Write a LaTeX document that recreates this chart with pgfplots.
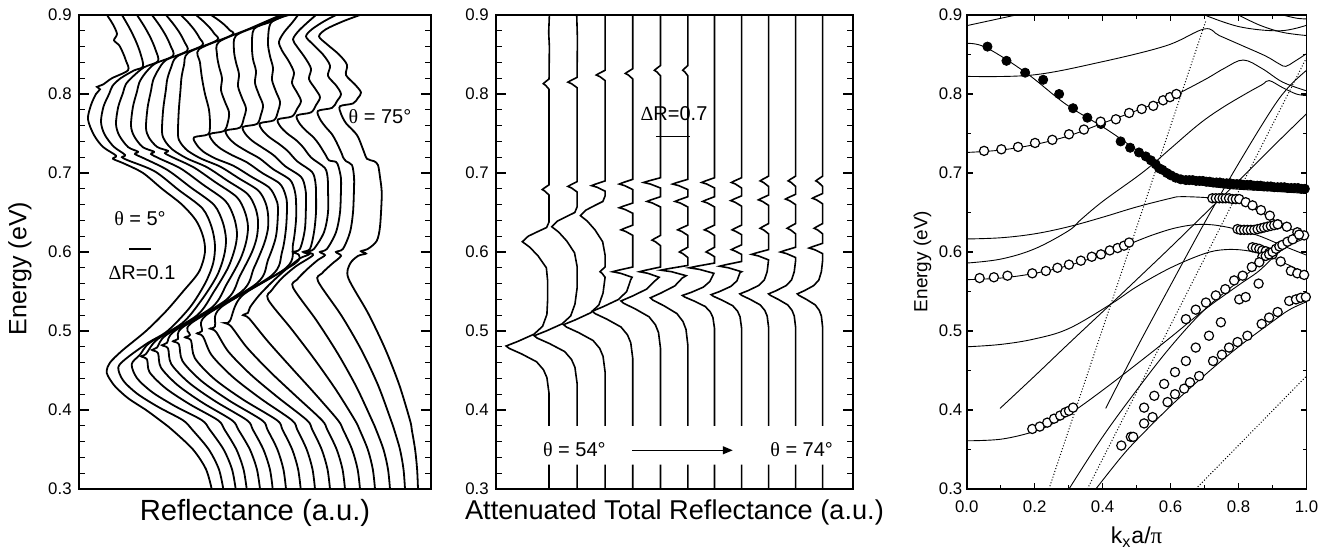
\documentclass[border=0pt]{standalone}
\usepackage{fontspec}
\setmainfont{Liberation Sans}
\newfontfamily\symb{Liberation Serif}
\usepackage{pgfplots}
\pgfplotsset{compat=1.18}
\usetikzlibrary{arrows.meta}

\tikzset{note/.style={font=\fontsize{10}{11}\selectfont}}
\pgfplotsset{
  panel/.style={
    scale only axis, height=237pt,
    ymin=0.3, ymax=0.9,
    axis line style={line width=0.9pt},
    tick style={line width=0.6pt, black},
    tick align=inside,
    /pgf/number format/assume math mode=true,
    yticklabel style={/pgf/number format/fixed,/pgf/number format/fixed zerofill,
      /pgf/number format/precision=1, font=\fontsize{8.4}{9}\selectfont, inner sep=0pt, xshift=-3.5pt},
    xticklabel style={/pgf/number format/fixed,/pgf/number format/fixed zerofill,
      /pgf/number format/precision=1, font=\fontsize{8.4}{9}\selectfont, inner sep=0pt, yshift=-5.5pt},
  },
  spec/.style={black, line width=0.9pt, smooth, tension=0.5},
  atr/.style={black, line width=0.8pt},
  band/.style={black, line width=0.45pt, smooth, tension=0.6},
  light/.style={black, line width=0.5pt, densely dotted},
  open/.style={only marks, mark=*, mark size=2.3pt, mark options={fill=white, draw=black, line width=0.6pt}},
  full/.style={only marks, mark=*, mark size=2.3pt, mark options={fill=black, draw=black}},
}

\begin{document}
\begin{tikzpicture}
\path[use as bounding box] (0pt,0pt) rectangle (665.5pt,-275.5pt);

% ---------------- Reflectance spectra, theta = 5 ... 75 deg ----------------
\begin{axis}[panel, at={(39.5pt,-7.5pt)}, anchor=north west, width=176pt,
  xmin=79, xmax=431, xtick=\empty,
  ytick={0.3,0.4,0.5,0.6,0.7,0.8,0.9}, minor y tick num=4,
  major tick length=5pt, minor tick length=3pt,
  ylabel={Energy (eV)}, ylabel style={font=\fontsize{12.5}{14}\selectfont, at={(axis description cs:-0.168,0.465)}, anchor=center},
  xlabel={Reflectance (a.u.)}, xlabel style={font=\fontsize{14.6}{16}\selectfont, at={(axis description cs:0.5,0)}, anchor=center, yshift=-12pt},
]
\addplot[spec] coordinates {(211.7,0.300)(206,0.325)(193,0.350)(172,0.375)(160,0.387)(146,0.400)(128,0.415)(115,0.430)(108,0.443)(106.7,0.450)(110,0.460)(122,0.475)(146,0.500)(166,0.525)(183,0.550)(199,0.575)(205,0.600)(203,0.620)(196,0.640)(182,0.660)(162,0.680)(143,0.700)(124,0.712)(113,0.718)(116,0.722)(103,0.733)(94,0.748)(88,0.768)(91,0.786)(96,0.800)(100,0.806)(97,0.809)(103,0.812)(112,0.820)(128,0.830)(126,0.842)(123,0.852)(119,0.862)(114,0.868)(117,0.876)(113,0.888)(107,0.900)};
\addplot[spec] coordinates {(223.3,0.300)(218.9,0.325)(208.8,0.350)(192.3,0.375)(183,0.387)(158.3,0.4038)(137.3,0.4205)(123.2,0.4373)(118.3,0.454)(127,0.466)(147.9,0.485)(167.5,0.500)(190,0.530)(205,0.560)(213,0.585)(215,0.608)(211.6,0.6316)(202.5,0.6551)(178.5,0.6787)(154.6,0.7022)(128,0.716)(122,0.720)(125,0.723)(113.5,0.7336)(104.4,0.7493)(101,0.765)(103.6,0.7844)(109.3,0.8006)(112.6,0.8104)(120.8,0.8201)(134,0.8298)(143,0.8348)(140.5,0.8511)(135.7,0.8674)(129.4,0.8837)(122,0.900)};
\addplot[spec] coordinates {(235.7,0.300)(232,0.325)(223.6,0.350)(209.8,0.375)(202,0.387)(175.1,0.4048)(152.3,0.4225)(137,0.4403)(131.7,0.458)(140,0.470)(149.7,0.485)(182.3,0.510)(202,0.540)(217,0.570)(224,0.595)(226,0.616)(222.7,0.6379)(213.9,0.6598)(190.8,0.6817)(167.7,0.7036)(144.6,0.7182)(135,0.724)(138,0.727)(128.1,0.7328)(119.3,0.7474)(116,0.762)(118.2,0.7835)(123,0.8015)(125.8,0.8123)(132.8,0.822)(144,0.8338)(158,0.8415)(155.5,0.8561)(150.7,0.8708)(144.4,0.8854)(137,0.900)};
\addplot[spec] coordinates {(246.7,0.300)(243.5,0.325)(236.4,0.350)(224.6,0.375)(218,0.387)(189.7,0.4073)(165.7,0.4275)(149.6,0.4478)(147,0.464)(141,0.468)(146,0.471)(158,0.490)(197.2,0.520)(214,0.550)(228,0.580)(235,0.605)(237,0.624)(233.8,0.6444)(225.3,0.6648)(203.1,0.6852)(180.8,0.7056)(160,0.718)(151,0.724)(154,0.727)(142.7,0.7328)(134.2,0.7464)(131,0.760)(132.9,0.7835)(137,0.8031)(139.4,0.8149)(145.4,0.8266)(155,0.8384)(173,0.8483)(170.5,0.8612)(165.7,0.8742)(159.4,0.8871)(152,0.900)};
\addplot[spec] coordinates {(260,0.300)(256.9,0.325)(249.9,0.350)(238.4,0.375)(232,0.387)(202.5,0.4093)(177.6,0.4315)(160.9,0.4538)(158,0.472)(152,0.476)(157,0.479)(166.4,0.495)(212,0.530)(227,0.560)(240,0.590)(246,0.612)(248,0.632)(244.9,0.6508)(236.8,0.6695)(215.4,0.6883)(193.9,0.707)(174,0.719)(165,0.725)(168,0.728)(157.2,0.733)(149.1,0.7445)(146,0.757)(147.6,0.7828)(151,0.8042)(153,0.8171)(158,0.830)(166,0.8429)(187,0.8545)(184.5,0.8659)(179.7,0.8773)(173.4,0.8886)(166,0.900)};
\addplot[spec] coordinates {(272.7,0.300)(269.9,0.325)(263.4,0.350)(252.9,0.375)(247,0.387)(215.6,0.4108)(189,0.4345)(171.2,0.4583)(168,0.478)(162,0.482)(167,0.485)(174.7,0.500)(226.8,0.540)(240,0.570)(252,0.600)(257,0.620)(258,0.640)(255.1,0.6568)(247.4,0.6736)(227.3,0.6904)(207.1,0.7072)(187,0.7184)(172.6,0.7296)(164.9,0.7408)(162,0.752)(163.2,0.7807)(165.8,0.8045)(167.3,0.8189)(171,0.8332)(177,0.8475)(202,0.8612)(199.5,0.8709)(194.7,0.8806)(188.4,0.8903)(181,0.900)};
\addplot[spec] coordinates {(286,0.300)(283.4,0.325)(277.4,0.350)(267.5,0.375)(262,0.387)(229.1,0.412)(201.2,0.437)(182.5,0.462)(179,0.483)(173,0.487)(178,0.490)(183,0.505)(241.7,0.550)(254,0.580)(264,0.610)(268,0.630)(268,0.648)(265.3,0.663)(258.1,0.678)(239.2,0.693)(220.3,0.708)(201.4,0.718)(187.9,0.728)(180.7,0.738)(178,0.748)(178.8,0.7792)(180.5,0.8052)(181.5,0.8208)(184,0.8364)(188,0.852)(217,0.868)(214.5,0.876)(209.7,0.884)(203.4,0.892)(196,0.900)};
\addplot[spec] coordinates {(300.7,0.300)(298.1,0.325)(292.2,0.350)(282.5,0.375)(277,0.387)(242.9,0.4133)(214.1,0.4395)(194.8,0.4658)(191,0.488)(185,0.492)(190,0.495)(191.3,0.510)(256.5,0.560)(268,0.590)(276,0.620)(278,0.655)(275.5,0.6685)(268.8,0.682)(251.1,0.6955)(233.5,0.7091)(215.8,0.7181)(203.2,0.7271)(196.5,0.7361)(194,0.7451)(208,0.7489)(210,0.760)(209,0.780)(205,0.800)(202,0.820)(200,0.840)(199,0.8566)(232,0.8747)(229.5,0.881)(224.7,0.8873)(218.4,0.8937)(211,0.900)};
\addplot[spec] coordinates {(315,0.300)(312.5,0.325)(306.7,0.350)(297.3,0.375)(292,0.387)(260.6,0.4145)(232.6,0.442)(211.6,0.4695)(203,0.493)(197,0.497)(202,0.500)(206.2,0.520)(271.4,0.570)(282,0.600)(286,0.630)(287,0.660)(285.2,0.6734)(279.5,0.6868)(262,0.7002)(246.8,0.7136)(232,0.7226)(219.9,0.7315)(212.6,0.7405)(210,0.7494)(224,0.7532)(228,0.765)(229,0.777)(225,0.790)(221,0.805)(222,0.820)(219,0.835)(217,0.850)(219,0.866)(250,0.883)(280.7,0.900)};
\addplot[spec] coordinates {(330,0.300)(327.5,0.325)(321.7,0.350)(312.3,0.375)(307,0.387)(277.9,0.416)(250.6,0.445)(228.3,0.474)(216,0.499)(210,0.503)(215,0.506)(221,0.530)(286.2,0.580)(293,0.610)(296,0.640)(296,0.665)(294.6,0.6783)(289.8,0.6916)(273.1,0.7049)(259.9,0.7182)(247.4,0.7271)(235.9,0.736)(228.6,0.7448)(226,0.7537)(240,0.7575)(244,0.770)(246,0.782)(242,0.795)(238,0.810)(239,0.825)(236,0.840)(234,0.855)(236,0.8739)(260,0.887)(283.5,0.900)};
\addplot[spec] coordinates {(345,0.300)(342.5,0.325)(336.7,0.350)(327.3,0.375)(322,0.387)(295.8,0.4178)(270,0.4485)(246.8,0.4793)(231,0.506)(225,0.510)(230,0.513)(242.4,0.545)(294.5,0.585)(299,0.596)(293,0.600)(300,0.604)(305,0.630)(306,0.668)(305.1,0.6815)(301,0.6952)(285.2,0.7086)(273.9,0.7222)(263.5,0.7312)(252.8,0.7402)(245.5,0.7493)(243,0.7583)(257,0.7621)(261,0.774)(263,0.786)(259,0.799)(255,0.814)(256,0.829)(253,0.844)(252,0.860)(254,0.8823)(270,0.891)(286.2,0.900)};
\addplot[spec] coordinates {(360,0.300)(357.6,0.325)(352.1,0.350)(343.1,0.375)(338,0.387)(315.2,0.4203)(291.4,0.4535)(267.9,0.4868)(249,0.516)(243,0.520)(248,0.523)(250,0.530)(259,0.545)(272,0.562)(286,0.578)(300,0.592)(309,0.597)(303,0.600)(310,0.604)(314,0.625)(316,0.650)(316,0.675)(315.4,0.6882)(312,0.7014)(297.4,0.7146)(287.8,0.7277)(279.3,0.7365)(269.4,0.7453)(262.4,0.7541)(260,0.7629)(274,0.7668)(278,0.778)(280,0.790)(276,0.803)(272,0.818)(273,0.833)(270,0.848)(268,0.865)(271,0.8902)(288.9,0.900)};
\addplot[spec] coordinates {(375,0.300)(372.8,0.325)(367.8,0.350)(359.6,0.375)(355,0.387)(336.1,0.4253)(314.9,0.4635)(291.9,0.5018)(268,0.540)(272,0.552)(282,0.567)(296,0.582)(313,0.596)(307,0.600)(314,0.604)(324,0.625)(328,0.650)(328,0.680)(327.7,0.6932)(324.9,0.7063)(311.2,0.7195)(303.1,0.7327)(296.2,0.7415)(287.1,0.7502)(280.3,0.759)(278,0.7678)(292,0.7716)(297,0.781)(301,0.791)(297,0.802)(292,0.814)(294,0.827)(289,0.841)(282,0.855)(279,0.866)(284,0.878)(292,0.890)(298,0.900)};
\addplot[spec] coordinates {(390,0.300)(388,0.325)(383.5,0.350)(376.1,0.375)(372,0.387)(356.5,0.429)(338,0.471)(316.7,0.513)(293,0.555)(297,0.565)(307,0.578)(318,0.590)(325,0.596)(320,0.600)(327,0.604)(336,0.625)(340,0.650)(341,0.680)(340.9,0.694)(338.5,0.708)(336,0.714)(329,0.716)(326,0.722)(319.3,0.7357)(313.6,0.745)(305.4,0.7543)(299.1,0.7636)(297,0.7729)(311,0.7767)(316,0.786)(320,0.796)(315,0.807)(309,0.819)(311,0.832)(305,0.846)(297,0.860)(293,0.869)(298,0.879)(307,0.890)(316,0.900)};
\addplot[spec] coordinates {(405,0.300)(403.5,0.325)(400,0.350)(394.2,0.375)(391,0.387)(378.2,0.431)(361.8,0.475)(341.7,0.519)(318,0.563)(322,0.573)(332,0.585)(341,0.595)(336,0.600)(343,0.604)(350,0.625)(353,0.650)(354,0.680)(354,0.695)(352,0.710)(346,0.715)(343,0.720)(341.8,0.7244)(336.4,0.7392)(332,0.749)(325.2,0.7589)(319.8,0.7687)(318,0.7786)(332,0.7824)(337,0.791)(341,0.800)(336,0.811)(328,0.823)(330,0.836)(323,0.850)(312,0.864)(306,0.873)(312,0.882)(324,0.892)(336,0.900)};
\addplot[spec] coordinates {(418,0.300)(417.1,0.325)(415.1,0.350)(411.8,0.375)(410,0.387)(399.2,0.432)(385.3,0.477)(368.3,0.522)(348.3,0.567)(350,0.585)(358,0.595)(366,0.598)(361,0.601)(368,0.604)(376.7,0.614)(380,0.632)(381.7,0.668)(381.5,0.680)(380,0.695)(378,0.710)(374,0.715)(367,0.718)(363,0.730)(357,0.748)(346,0.763)(341,0.775)(340,0.7845)(353,0.788)(358,0.795)(361,0.802)(355,0.812)(346,0.824)(347,0.837)(339,0.850)(326,0.864)(319,0.873)(326,0.882)(343,0.892)(360,0.900)};
% scale bar and angle labels
\addplot[black, line width=1pt] coordinates {(129,0.604)(151,0.604)};
\node[note] at (axis cs:140,0.642) {{\symb θ} = 5°};
\node[note] at (axis cs:142,0.574) {{\symb Δ}R=0.1};
\node[note] at (axis cs:380,0.771) {{\symb θ} = 75°};
\end{axis}

% ---------------- ATR spectra, theta = 54 ... 74 deg ----------------
\begin{axis}[panel, at={(248pt,-7.5pt)}, anchor=north west, width=178.5pt,
  xmin=165, xmax=1222, xtick=\empty,
  ytick={0.3,0.4,0.5,0.6,0.7,0.8,0.9}, minor y tick num=4,
  major tick length=5pt, minor tick length=3pt,
  unbounded coords=jump,
  xlabel={Attenuated Total Reflectance (a.u.)}, xlabel style={font=\fontsize{13.6}{15}\selectfont, at={(axis description cs:0.5,0)}, anchor=center, yshift=-11.5pt},
]
\addplot[atr] coordinates {(322,0.300)(322,0.331)(322,nan)(322,0.380)(322,0.421)(315.7,0.441)(305.5,0.451)(285.2,0.461)(240.7,0.471)(203.9,0.478)(195,0.481)(230.6,0.487)(277.6,0.496)(303,0.506)(315.7,0.521)(318,0.541)(318,0.563)(314.1,0.580)(289.6,0.595)(265.1,0.606)(243,0.613)(260.4,0.620)(289.6,0.626)(314.9,0.631)(322,0.638)(322,0.672)(310,0.677)(302,0.679)(308,0.681)(322,0.685)(322,0.806)(311.8,0.811)(305,0.813)(310.1,0.815)(322,0.819)(323,0.860)(321,0.878)(323,0.900)};
\addplot[atr] coordinates {(405,0.300)(405,0.331)(405,nan)(405,0.380)(405,0.434)(398.7,0.454)(388.5,0.464)(368.2,0.474)(323.7,0.484)(286.9,0.491)(278,0.494)(313.6,0.500)(360.6,0.509)(386,0.519)(398.7,0.534)(405,0.554)(405,0.582)(397.5,0.599)(374.3,0.614)(351,0.625)(330,0.632)(346.5,0.639)(374.3,0.645)(398.3,0.650)(405,0.657)(405,0.676)(388.8,0.681)(378,0.683)(386.1,0.685)(405,0.689)(405,0.808)(388.8,0.813)(378,0.815)(386.1,0.817)(405,0.821)(406,0.870)(404,0.900)};
\addplot[atr] coordinates {(488,0.300)(488,0.331)(488,nan)(488,0.380)(488,0.448)(481.9,0.468)(472,0.478)(452.3,0.488)(409.3,0.498)(373.6,0.505)(365,0.508)(399.4,0.514)(445,0.523)(469.6,0.533)(481.9,0.548)(488,0.568)(479,0.573)(473,0.575)(477.5,0.577)(488,0.581)(488,0.596)(480.7,0.613)(458.1,0.628)(435.4,0.639)(415,0.646)(431.1,0.653)(458.1,0.659)(481.4,0.664)(488,0.671)(488,0.677)(464,0.682)(448,0.684)(460,0.686)(488,0.690)(488,0.817)(472.4,0.822)(462,0.824)(469.8,0.826)(488,0.830)(488,0.900)};
\addplot[atr] coordinates {(570,0.300)(570,0.331)(570,nan)(570,0.380)(570,0.465)(564,0.485)(554.4,0.495)(535.2,0.505)(493.2,0.515)(458.4,0.522)(450,0.525)(483.6,0.531)(528,0.540)(552,0.550)(564,0.565)(568,0.568)(534,0.573)(510,0.575)(528,0.577)(570,0.581)(570,0.621)(549,0.626)(535,0.628)(545.5,0.630)(570,0.634)(570,0.649)(546,0.654)(530,0.656)(542,0.658)(570,0.662)(570,0.679)(546,0.684)(530,0.686)(542,0.688)(570,0.692)(570,0.819)(556.8,0.824)(548,0.826)(554.6,0.828)(570,0.832)(570,0.900)};
\addplot[atr] coordinates {(652,0.300)(652,0.331)(652,nan)(652,0.380)(652,0.478)(646.2,0.498)(636.8,0.508)(618.1,0.518)(577.1,0.528)(543.2,0.535)(535,0.538)(567.8,0.544)(611,0.553)(634.5,0.563)(648,0.568)(614.8,0.573)(590,0.575)(608.6,0.577)(652,0.581)(652,0.608)(637,0.613)(627,0.615)(634.5,0.617)(652,0.621)(652,0.657)(628,0.662)(612,0.664)(624,0.666)(652,0.670)(652,0.681)(622,0.686)(602,0.688)(617,0.690)(652,0.694)(652,0.823)(641.2,0.828)(634,0.830)(639.4,0.832)(652,0.836)(652,0.900)};
\addplot[atr] coordinates {(733,0.300)(733,0.331)(733,nan)(733,0.380)(733,0.482)(727.5,0.502)(718.6,0.512)(700.8,0.522)(662,0.532)(629.8,0.539)(622,0.542)(653.1,0.548)(694.2,0.557)(716.4,0.567)(728,0.570)(685,0.575)(653,0.577)(677,0.579)(733,0.583)(733,0.593)(718,0.598)(708,0.600)(715.5,0.602)(733,0.606)(733,0.621)(715,0.626)(703,0.628)(712,0.630)(733,0.634)(733,0.657)(710.2,0.662)(695,0.664)(706.4,0.666)(733,0.670)(733,0.679)(706,0.684)(688,0.686)(701.5,0.688)(733,0.692)(733,0.823)(724,0.828)(718,0.830)(722.5,0.832)(733,0.836)(733,0.900)};
\addplot[atr] coordinates {(812,0.300)(812,0.331)(812,nan)(812,0.380)(812,0.503)(807.3,0.517)(799.7,0.524)(784.5,0.531)(751.2,0.538)(723.7,0.543)(717,0.545)(743.6,0.549)(778.8,0.5555)(797.8,0.5625)(810,0.573)(767,0.578)(737,0.580)(759.5,0.582)(812,0.586)(812,0.594)(797,0.598)(787,0.600)(794.5,0.602)(812,0.606)(812,0.621)(794,0.626)(782,0.628)(791,0.630)(812,0.634)(812,0.657)(791,0.662)(777,0.664)(787.5,0.666)(812,0.670)(812,0.681)(789.2,0.686)(774,0.688)(785.4,0.690)(812,0.694)(812,0.900)};
\addplot[atr] coordinates {(892,0.300)(892,0.331)(892,nan)(892,0.380)(892,0.504)(887.5,0.518)(880.3,0.525)(865.9,0.532)(834.4,0.539)(808.3,0.544)(802,0.546)(827.2,0.550)(860.5,0.5565)(878.5,0.5635)(887.5,0.574)(892,0.575)(853,0.580)(827,0.582)(846.5,0.584)(892,0.588)(892,0.597)(874,0.601)(862,0.603)(871,0.605)(892,0.609)(892,0.622)(875.2,0.626)(864,0.628)(872.4,0.630)(892,0.634)(892,0.658)(872.8,0.663)(860,0.665)(869.6,0.667)(892,0.671)(892,0.681)(874,0.686)(862,0.688)(871,0.690)(892,0.694)(892,0.900)};
\addplot[atr] coordinates {(972,0.300)(972,0.331)(972,nan)(972,0.380)(972,0.505)(967.8,0.519)(960.9,0.526)(947.4,0.533)(917.6,0.540)(893,0.545)(887,0.547)(910.8,0.551)(942.3,0.5575)(959.3,0.5645)(967.8,0.575)(972,0.590)(942,0.595)(922,0.597)(937,0.599)(972,0.603)(972,0.623)(957,0.628)(947,0.630)(954.5,0.632)(972,0.636)(972,0.659)(954,0.664)(942,0.666)(951,0.668)(972,0.672)(972,0.683)(957,0.688)(947,0.690)(954.5,0.692)(972,0.696)(972,0.900)};
\addplot[atr] coordinates {(1052,0.300)(1052,0.331)(1052,nan)(1052,0.380)(1052,0.505)(1048,0.519)(1041.6,0.526)(1028.8,0.533)(1000.8,0.540)(977.6,0.545)(972,0.547)(994.4,0.551)(1024,0.5575)(1040,0.5645)(1048,0.575)(1052,0.589)(1052,0.593)(1025,0.598)(1007,0.600)(1020.5,0.602)(1052,0.606)(1052,0.623)(1037,0.628)(1027,0.630)(1034.5,0.632)(1052,0.636)(1052,0.660)(1034,0.665)(1022,0.667)(1031,0.669)(1052,0.673)(1052,0.683)(1038.8,0.688)(1030,0.690)(1036.6,0.692)(1052,0.696)(1052,0.900)};
\addplot[atr] coordinates {(1132,0.300)(1132,0.331)(1132,nan)(1132,0.380)(1132,0.505)(1128.3,0.519)(1122.3,0.526)(1110.3,0.533)(1084,0.540)(1062.3,0.545)(1057,0.547)(1078,0.551)(1105.8,0.5575)(1120.8,0.5645)(1128.3,0.575)(1132,0.589)(1132,0.598)(1108,0.603)(1092,0.605)(1104,0.607)(1132,0.611)(1132,0.623)(1117,0.628)(1107,0.630)(1114.5,0.632)(1132,0.636)(1132,0.661)(1114,0.666)(1102,0.668)(1111,0.670)(1132,0.674)(1132,0.683)(1120,0.688)(1112,0.690)(1118,0.692)(1132,0.696)(1132,0.900)};
% scale bar, angle range
\addplot[black, line width=0.8pt] coordinates {(638,0.746)(738,0.746)};
\node[note] at (axis cs:692,0.775) {{\symb Δ}R=0.7};
\node[note] at (axis cs:397,0.350) {{\symb θ} = 54°};
\node[note] at (axis cs:1070,0.350) {{\symb θ} = 74°};
\draw[line width=0.6pt, -{Triangle[length=5pt,width=4pt]}] (axis cs:568,0.349) -- (axis cs:866,0.349);
\end{axis}

% ---------------- dispersion: bands, light lines, measured modes ----------------
\begin{axis}[panel, at={(483.35pt,-7.5pt)}, anchor=north west, width=169.9pt,
  xmin=0, xmax=1, xtick={0,0.2,0.4,0.6,0.8,1.0}, minor x tick num=1,
  ytick={0.3,0.4,0.5,0.6,0.7,0.8,0.9}, minor y tick num=1,
  major tick length=3pt, minor tick length=2pt,
  axis line style={line width=0.8pt},
  yticklabel style={xshift=1.5pt},
  ylabel={Energy (eV)}, ylabel style={font=\fontsize{9.5}{10}\selectfont, at={(axis description cs:-0.13,0.48)}, anchor=center},
  xlabel={k\textsubscript{x}a/{\symb π}}, xlabel style={font=\fontsize{11.5}{12}\selectfont, at={(axis description cs:0.5,0)}, anchor=center, yshift=-24pt},
]
% calculated bands
\addplot[band] coordinates {(0,0.8865)(0.07,0.893)(0.145,0.900)};
\addplot[band] coordinates {(0,0.864)(0.056,0.859)(0.174,0.827)(0.292,0.787)(0.409,0.756)(0.488,0.7325)(0.547,0.7135)(0.586,0.701)(0.625,0.690)(0.684,0.685)(0.782,0.680)(0.9,0.677)(1.0,0.674)};
\addplot[band] coordinates {(0,0.8223)(0.193,0.824)(0.39,0.840)(0.586,0.861)(0.699,0.8823)(0.743,0.874)(0.812,0.861)(0.88,0.848)(0.92,0.838)(0.939,0.835)(0.964,0.841)(1.0,0.851)};
\addplot[band] coordinates {(0.80,0.900)(0.863,0.887)(0.93,0.878)(1.0,0.874)};
\addplot[band] coordinates {(0.70,0.900)(0.804,0.885)(0.922,0.880)(1.0,0.887)};
\addplot[band] coordinates {(0.93,0.900)(0.97,0.896)(1.0,0.895)};
\addplot[band] coordinates {(0,0.726)(0.1,0.729)(0.2,0.736)(0.3,0.747)(0.4,0.763)(0.5,0.779)(0.6,0.796)(0.7,0.818)(0.76,0.833)(0.814,0.843)(0.87,0.832)(0.93,0.815)(1.0,0.804)};
\addplot[band] coordinates {(0,0.6165)(0.1,0.618)(0.2,0.623)(0.3,0.632)(0.4,0.644)(0.5,0.657)(0.6,0.668)(0.63,0.670)(0.7,0.669)(0.78,0.666)(0.84,0.656)(0.9,0.642)(0.95,0.630)(1.0,0.620)};
\addplot[band] coordinates {(0,0.586)(0.1,0.591)(0.2,0.604)(0.3,0.627)(0.336,0.641)(0.4,0.664)(0.5,0.695)(0.547,0.711)(0.6,0.731)(0.684,0.762)(0.75,0.782)(0.82,0.800)(0.87,0.812)(0.89,0.817)(0.93,0.808)(0.97,0.800)(1.0,0.798)};
\addplot[band] coordinates {(0,0.565)(0.1,0.567)(0.2,0.573)(0.3,0.583)(0.4,0.597)(0.478,0.610)(0.55,0.622)(0.62,0.631)(0.69,0.635)(0.76,0.632)(0.85,0.622)(0.93,0.608)(1.0,0.596)};
\addplot[band] coordinates {(0,0.480)(0.1,0.483)(0.2,0.490)(0.3,0.503)(0.424,0.534)(0.5,0.556)(0.6,0.580)(0.7,0.598)(0.76,0.603)(0.82,0.602)(0.88,0.596)(0.94,0.585)(1.0,0.572)};
\addplot[band] coordinates {(0,0.361)(0.1,0.363)(0.193,0.372)(0.25,0.382)(0.313,0.398)(0.4,0.425)(0.5,0.458)(0.6,0.492)(0.7,0.527)(0.8,0.558)(0.86,0.576)(0.92,0.600)(1.0,0.622)};
\addplot[band] coordinates {(0.098,0.402)(0.2,0.443)(0.3,0.484)(0.424,0.534)(0.5,0.565)(0.6,0.606)(0.7,0.648)(0.8,0.690)(0.9,0.733)(1.0,0.775)};
\addplot[band] coordinates {(0.409,0.402)(0.5,0.478)(0.6,0.558)(0.7,0.637)(0.8,0.712)(0.9,0.782)(0.95,0.810)(1.0,0.830)};
\addplot[band] coordinates {(0.301,0.300)(0.4,0.366)(0.5,0.425)(0.6,0.480)(0.7,0.527)(0.8,0.563)(0.87,0.588)(0.92,0.603)(1.0,0.618)};
\addplot[band] coordinates {(0.380,0.300)(0.45,0.338)(0.5,0.362)(0.6,0.405)(0.7,0.444)(0.8,0.480)(0.9,0.512)(0.95,0.527)(1.0,0.537)};
% light lines
\addplot[light] coordinates {(0.242,0.300)(0.704,0.893)};
\addplot[light] coordinates {(0.355,0.300)(1.0,0.846)};
\addplot[light] coordinates {(0.674,0.300)(1.0,0.443)};
% measured modes
\addplot[full] coordinates {(0.061,0.860)(0.117,0.842)(0.172,0.827)(0.225,0.818)(0.272,0.800)(0.313,0.782)(0.355,0.770)(0.395,0.762)(0.453,0.740)(0.481,0.732)(0.507,0.726)(0.527,0.721)(0.542,0.716)(0.556,0.711)(0.566,0.706)(0.576,0.704)(0.589,0.700)(0.601,0.697)(0.615,0.694)(0.630,0.692)(0.645,0.691)(0.655,0.691)(0.665,0.691)(0.675,0.690)(0.685,0.690)(0.695,0.690)(0.705,0.689)(0.715,0.689)(0.725,0.688)(0.735,0.688)(0.745,0.688)(0.755,0.687)(0.765,0.687)(0.775,0.687)(0.785,0.686)(0.795,0.686)(0.805,0.686)(0.815,0.685)(0.825,0.685)(0.835,0.685)(0.845,0.684)(0.855,0.684)(0.865,0.684)(0.875,0.683)(0.885,0.683)(0.895,0.683)(0.905,0.682)(0.915,0.682)(0.925,0.682)(0.935,0.682)(0.945,0.681)(0.955,0.681)(0.965,0.681)(0.975,0.681)(0.985,0.680)(0.995,0.680)};
\addplot[open] coordinates {(0.051,0.728)(0.102,0.730)(0.151,0.733)(0.201,0.738)(0.252,0.742)(0.301,0.749)(0.345,0.755)(0.394,0.765)(0.439,0.768)(0.478,0.776)(0.515,0.781)(0.549,0.785)(0.578,0.792)(0.598,0.796)(0.617,0.800)};
\addplot[open] coordinates {(0.038,0.567)(0.080,0.568)(0.120,0.570)(0.193,0.573)(0.233,0.576)(0.267,0.580)(0.301,0.584)(0.336,0.589)(0.368,0.594)(0.395,0.597)(0.421,0.602)(0.444,0.605)(0.463,0.608)(0.478,0.612)};
\addplot[open] coordinates {(0.193,0.376)(0.215,0.379)(0.237,0.384)(0.257,0.389)(0.275,0.393)(0.290,0.397)(0.301,0.399)(0.313,0.403)};
\addplot[open] coordinates {(0.723,0.668)(0.733,0.668)(0.743,0.668)(0.753,0.668)(0.762,0.668)(0.772,0.668)(0.782,0.667)(0.792,0.667)(0.802,0.667)(0.821,0.663)(0.841,0.659)(0.866,0.653)(0.892,0.646)(0.915,0.635)(0.942,0.632)(0.973,0.625)(0.993,0.621)};
\addplot[open] coordinates {(0.797,0.629)(0.806,0.628)(0.816,0.628)(0.826,0.628)(0.836,0.628)(0.846,0.628)(0.856,0.629)(0.866,0.630)(0.875,0.631)(0.885,0.632)(0.895,0.633)(0.905,0.634)(0.915,0.635)};
\addplot[open] coordinates {(0.841,0.606)(0.851,0.605)(0.861,0.604)(0.870,0.602)(0.880,0.601)(0.890,0.599)(0.900,0.597)(0.924,0.588)(0.954,0.576)(0.973,0.573)(0.993,0.571)};
\addplot[open] coordinates {(0.870,0.594)(0.880,0.595)(0.890,0.597)(0.900,0.600)(0.910,0.604)(0.920,0.607)(0.929,0.609)(0.944,0.613)(0.959,0.616)(0.978,0.622)};
\addplot[open] coordinates {(0.645,0.515)(0.674,0.527)(0.704,0.536)(0.733,0.545)(0.761,0.553)(0.787,0.564)(0.812,0.570)(0.839,0.581)(0.861,0.587)};
\addplot[open] coordinates {(0.522,0.403)(0.552,0.418)(0.581,0.433)(0.613,0.448)(0.645,0.462)(0.674,0.479)(0.713,0.494)(0.748,0.511)(0.802,0.540)(0.821,0.543)(0.859,0.560)};
\addplot[open] coordinates {(0.455,0.355)(0.483,0.366)(0.490,0.366)(0.522,0.383)(0.547,0.391)(0.591,0.410)(0.613,0.420)(0.640,0.427)(0.657,0.435)(0.684,0.443)(0.725,0.462)(0.751,0.470)(0.772,0.479)(0.797,0.486)(0.826,0.494)(0.868,0.509)(0.890,0.517)(0.915,0.524)(0.949,0.538)(0.969,0.540)(0.983,0.542)(0.998,0.543)};
\end{axis}
\end{tikzpicture}
\end{document}
